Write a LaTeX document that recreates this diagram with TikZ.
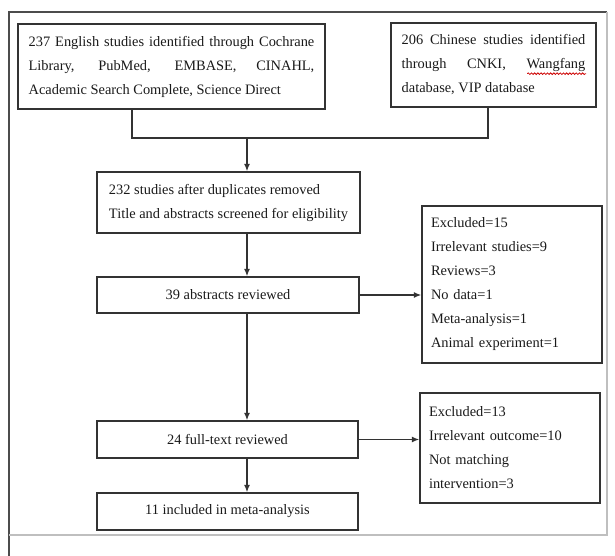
\documentclass[tikz,border=0pt]{standalone}
\usepackage{fontspec}
\setmainfont{Liberation Serif}
\usetikzlibrary{shapes,arrows.meta,decorations.pathmorphing}

\tikzset{
    box/.style={draw=black!80, line width=1.1pt, inner xsep=8pt, inner ysep=0pt, text=black!90},
    flow/.style={draw=black!80, line width=1pt, -{Latex[length=5.5pt,width=4.5pt]}},
    spell/.style={draw=red!80!black, line width=0.6pt, decorate, decoration={snake, amplitude=0.6pt, segment length=2.4pt}},
}

\begin{document}
\begin{tikzpicture}[x=0.75pt, y=-0.75pt, font=\fontsize{10.8}{18}\selectfont]
    \useasboundingbox (0,0) rectangle (615,556);
    \draw[black!70, line width=0.9pt] (9,556) -- (9,12) -- (607,12);
    \draw[black!25, line width=0.8pt] (607,12) -- (607,535) -- (9,535);

    \node[box, minimum width=230.25pt, minimum height=63.75pt, text width=214.25pt, align=justify] at (171.5,66.5) (eng)
        {237 English studies identified through Cochrane\linebreak Library, PubMed, EMBASE, CINAHL,\linebreak Academic Search Complete, Science Direct};
    \node[box, minimum width=153.75pt, minimum height=63pt, text width=137.75pt, align=justify] at (493.5,65) (chn)
        {206 Chinese studies identified\linebreak through CNKI, Wangfang\linebreak database, VIP database};
    \node[box, inner xsep=6pt, minimum width=197.25pt, minimum height=45.75pt, align=left] at (228.5,202.5) (dup)
        {232 studies after duplicates removed\\ Title and abstracts screened for eligibility};
    \node[box, minimum width=196.5pt, minimum height=27pt] at (228,295) (abs) {39 abstracts reviewed};
    \node[box, minimum width=195.75pt, minimum height=27.75pt] at (227.5,439.5) (full) {24 full-text reviewed};
    \node[box, minimum width=195.75pt, minimum height=27.75pt] at (227.5,511.5) (incl) {11 included in meta-analysis};
    \node[box, inner xsep=6.75pt, minimum width=135pt, minimum height=117.75pt, text width=121.5pt, align=left] at (512,284.5) (exa)
        {Excluded=15\\ Irrelevant studies=9\\ Reviews=3\\ No data=1\\ Meta-analysis=1\\ Animal experiment=1};
    \node[box, inner xsep=6.75pt, minimum width=135pt, minimum height=82.5pt, text width=121.5pt, align=left] at (510,448) (exb)
        {Excluded=13\\ Irrelevant outcome=10\\ Not matching\\ intervention=3};

    % red spell-check wave under the last word of the middle line
    \pgfmathsetmacro{\wfw}{1.08*width("Wangfang")}
    \draw[spell] ([xshift=-8pt-\wfw pt, yshift=-6.5pt]chn.east) -- ([xshift=-8pt, yshift=-6.5pt]chn.east);

    \coordinate (jl) at (132,138);
    \coordinate (jm) at (247,138);
    \coordinate (jr) at (488,138);
    \draw[flow, -] (eng.south -| jl) -- (jl) -- (jr) -- (chn.south -| jr);
    \draw[flow] (jm) -- (jm |- dup.north);
    \draw[flow] (dup.south -| jm) -- (abs.north -| jm);
    \draw[flow] (abs.east) -- (abs.east -| exa.west);
    \draw[flow] (abs.south -| jm) -- (full.north -| jm);
    \draw[flow] (full.east) -- (full.east -| exb.west);
    \draw[flow] (full.south -| jm) -- (incl.north -| jm);
% both searches merge before duplicates are removed
% exclusions branch off to the right
\end{tikzpicture}
\end{document}
